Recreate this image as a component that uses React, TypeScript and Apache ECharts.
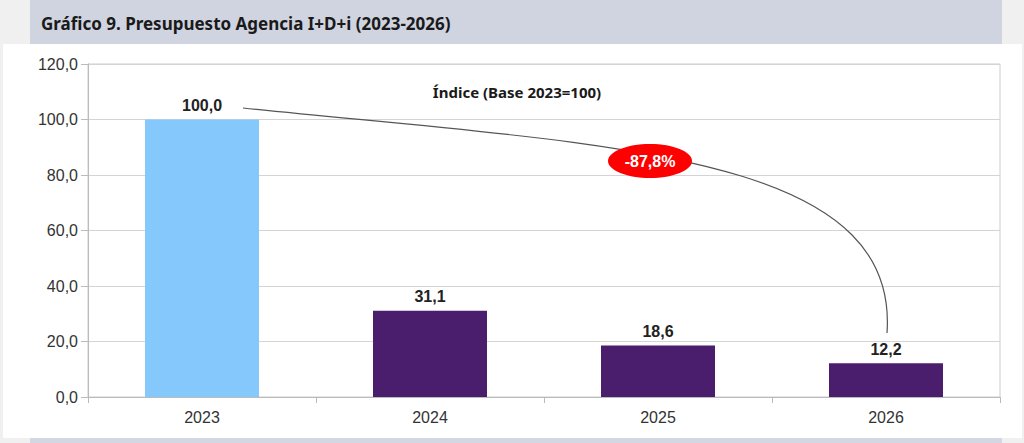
import React, { useEffect, useRef } from "react";
import * as echarts from "echarts";

const categories = ["2023", "2024", "2025", "2026"];
const values = [100.0, 31.1, 18.6, 12.2];
const yTicks = [0, 20, 40, 60, 80, 100, 120];
const changeLabel = "-87,8%";
const titleText = "Gráfico 9. Presupuesto Agencia I+D+i (2023-2026)";
const subtitleText = "Índice (Base 2023=100)";

const fmt = (v: number) => v.toFixed(1).replace(".", ",");

export default function App() {
  const ref = useRef<HTMLDivElement>(null);
  useEffect(() => {
    document.body.style.margin = "0";
    const chart = echarts.init(ref.current!, null, { renderer: "svg" });
    chart.setOption({
      animation: false,
      backgroundColor: "#f0f0f0",
      graphic: [
        { type: "rect", z: -10, shape: { x: 30, y: 0, width: 972, height: 44 }, style: { fill: "#cfd4e0" } },
        { type: "rect", z: -10, shape: { x: 3, y: 44, width: 1019, height: 394 }, style: { fill: "#ffffff" } },
        { type: "rect", z: -10, shape: { x: 30, y: 438, width: 972, height: 6 }, style: { fill: "#d3d7e2" } },
        {
          type: "text", x: 41, y: 23, z: 10,
          style: { text: titleText, font: "bold 17px 'Noto Sans'", fill: "#1a1a1a", verticalAlign: "middle" },
        },
        {
          type: "text", x: 517, y: 92, z: 10,
          style: { text: subtitleText, font: "bold 15px 'Noto Sans'", fill: "#1a1a1a", align: "center", verticalAlign: "middle" },
        },
        {
          type: "bezierCurve", z: 8,
          shape: { x1: 243, y1: 108, cpx1: 600, cpy1: 145, cpx2: 900, cpy2: 150, x2: 887, y2: 333 },
          style: { stroke: "#555555", lineWidth: 1.2, fill: null },
        },
        {
          type: "ellipse", z: 9,
          shape: { cx: 650, cy: 161, rx: 42, ry: 17 },
          style: { fill: "#ff0000" },
        },
        {
          type: "text", x: 650, y: 161, z: 10,
          style: { text: changeLabel, font: "bold 16px 'Liberation Sans'", fill: "#ffffff", align: "center", verticalAlign: "middle" },
        },
      ],
      grid: { left: 88, right: 24, top: 64, bottom: 46, show: true, borderColor: "#cccccc", borderWidth: 1, backgroundColor: "transparent" },
      xAxis: {
        type: "category",
        data: categories,
        boundaryGap: true,
        axisLine: { show: true, lineStyle: { color: "#bbbbbb" } },
        axisTick: { show: true, length: 6, lineStyle: { color: "#bbbbbb" } },
        axisLabel: { color: "#333333", fontSize: 16, fontFamily: "Liberation Sans", margin: 12 },
      },
      yAxis: {
        type: "value",
        min: 0,
        max: 120,
        interval: 20,
        axisLine: { show: true, lineStyle: { color: "#bbbbbb" } },
        axisTick: { show: true, length: 7, lineStyle: { color: "#bbbbbb" } },
        splitLine: { show: true, lineStyle: { color: "#d4d4d4" } },
        axisLabel: {
          color: "#333333", fontSize: 16, fontFamily: "Liberation Sans", margin: 10,
          formatter: (v: number) => (yTicks.includes(v) ? fmt(v) : ""),
        },
      },
      series: [
        {
          type: "bar",
          data: values.map((v, i) => ({ value: v, itemStyle: { color: i === 0 ? "#84c8fc" : "#4a1e6c" } })),
          barWidth: "50%",
          label: {
            show: true,
            position: "top",
            distance: 6,
            color: "#222222",
            fontSize: 16,
            fontWeight: "bold",
            fontFamily: "Liberation Sans",
            formatter: (p: any) => fmt(p.value),
          },
        },
      ],
    });
    return () => chart.dispose();
  }, []);
  return <div ref={ref} style={{ width: 1024, height: 443 }} />;
}
